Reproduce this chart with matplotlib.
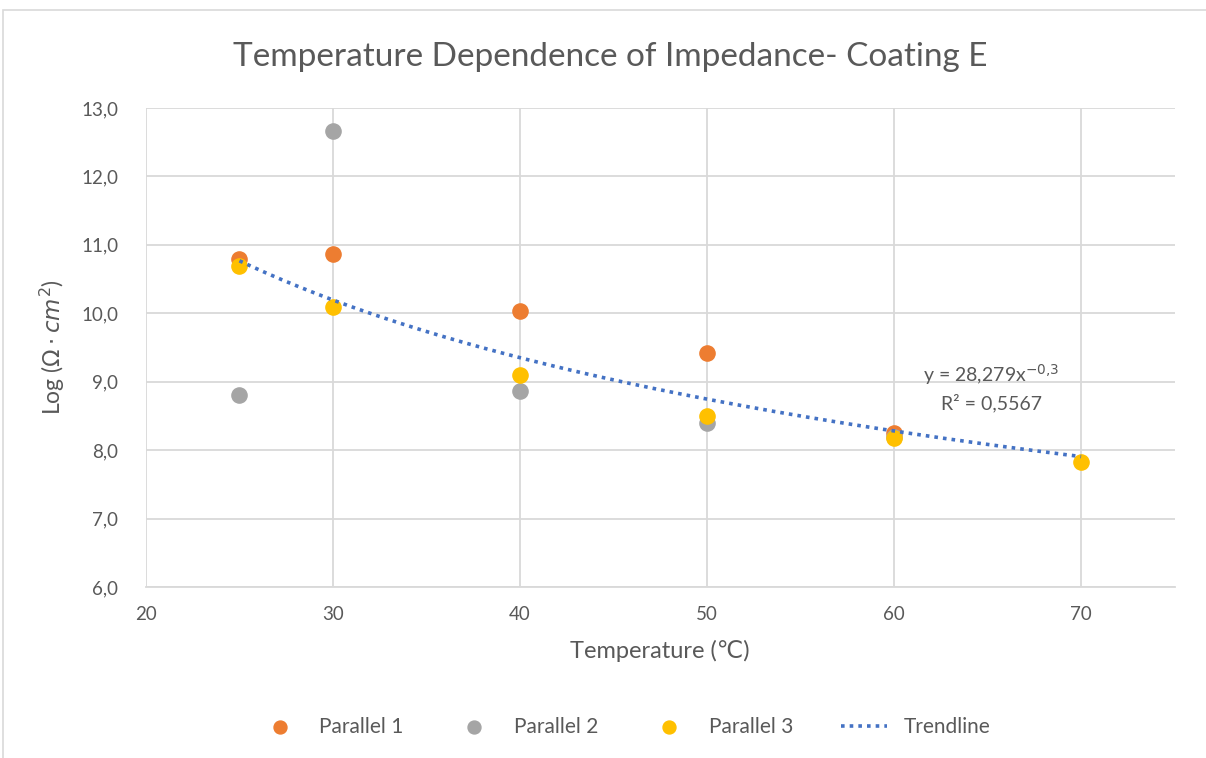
import numpy as np
import matplotlib.pyplot as plt
from matplotlib.ticker import FuncFormatter
from matplotlib.patches import Rectangle

plt.rcParams['font.family'] = ['Lato', 'DejaVu Sans']
plt.rcParams['mathtext.fontset'] = 'dejavusans'

# measured log impedance per temperature
temp = [25, 30, 40, 50, 60]
temp_p3 = [25, 30, 40, 50, 60, 70]
parallel_1 = [10.79, 10.87, 10.03, 9.42, 8.25]
parallel_2 = [8.80, 12.67, 8.86, 8.39, 8.19]
parallel_3 = [10.69, 10.09, 9.10, 8.50, 8.17, 7.82]

# power-law trendline coefficients (y = a * x^b)
trend_a = 28.279
trend_b = -0.3

text_col = '#595959'
grid_col = '#d9d9d9'

fig = plt.figure(figsize=(12.06, 7.58), dpi=100)
ax = fig.add_axes([0.121, 0.2256, 0.853, 0.632])

ms = 120
ax.scatter(temp, parallel_1, s=ms, color='#ED7D31', label='Parallel 1', zorder=3)
ax.scatter(temp, parallel_2, s=ms, color='#A5A5A5', label='Parallel 2', zorder=3)
ax.scatter(temp_p3, parallel_3, s=ms, color='#FFC000', label='Parallel 3', zorder=3)

xt = np.linspace(min(temp_p3), max(temp_p3), 200)
ax.plot(xt, trend_a * xt ** trend_b, color='#4472C4', linestyle=(0, (1, 1.4)),
        linewidth=2.6, label='Trendline', zorder=4)

ax.set_xlim(20, 75)
ax.set_ylim(6, 13)
ax.set_xticks([20, 30, 40, 50, 60, 70])
ax.set_yticks(np.arange(6, 13.1, 1))
ax.yaxis.set_major_formatter(FuncFormatter(lambda v, p: f'{v:.1f}'.replace('.', ',')))
ax.grid(True, color=grid_col, linewidth=1.3)
ax.set_axisbelow(True)
for s in ['top', 'right', 'left']:
    ax.spines[s].set_visible(False)
ax.spines['bottom'].set_color(grid_col)
ax.spines['bottom'].set_linewidth(1.3)
ax.tick_params(length=0, colors=text_col, labelsize=13.5)
ax.tick_params(axis='y', pad=20)
ax.tick_params(axis='x', pad=14)

ax.set_xlabel('Temperature (℃)', fontsize=17, color=text_col, labelpad=12)
ax.set_ylabel(r'Log ($\Omega\cdot cm^2$)', fontsize=16.5, color=text_col, labelpad=10)
fig.text(0.506, 0.925, 'Temperature Dependence of Impedance- Coating E',
         fontsize=24, color=text_col, ha='center', va='center')

ax.text(65.2, 9.10, r'y = 28,279x$^{-0{,}3}$', fontsize=14, color=text_col,
        ha='center', va='center')
ax.text(65.2, 8.69, 'R² = 0,5567', fontsize=14, color=text_col,
        ha='center', va='center')

fig.legend(loc='center', bbox_to_anchor=(0.517, 0.041), ncol=4, frameon=False,
           fontsize=15, labelcolor=text_col, handlelength=2.2, columnspacing=2.3,
           scatterpoints=1, markerscale=0.85)

# chart area border
fig.patches.append(Rectangle((3 / 1206, -0.1), 1.2, 1 - 10 / 758 + 0.1,
                             transform=fig.transFigure, fill=False,
                             edgecolor=grid_col, linewidth=1.2))

fig.savefig('out.png', dpi=100)
